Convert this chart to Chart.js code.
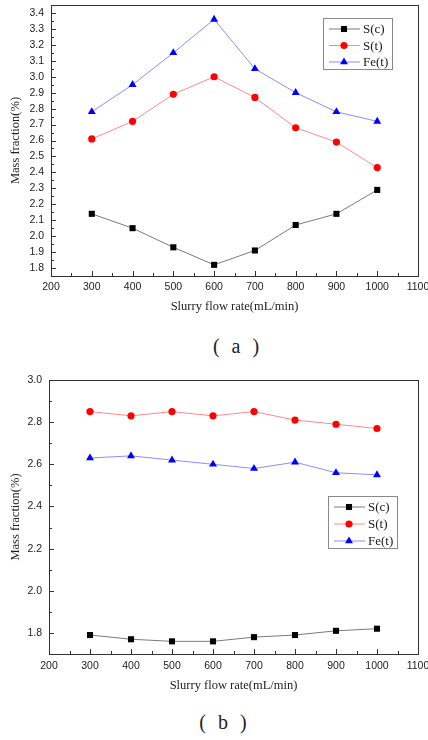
<!DOCTYPE html>
<html>
<head>
<meta charset="utf-8">
<script src="https://cdn.jsdelivr.net/npm/chart.js@4.4.1/dist/chart.umd.min.js"></script>
<style>
body{margin:0;background:#fff;width:428px;height:740px;position:relative;overflow:hidden}
.box{position:absolute;left:0;width:428px}
.cap{position:absolute;width:80px;text-align:center;font-family:"Liberation Serif",serif;font-size:20px;word-spacing:7px;color:#222;white-space:pre}
</style>
</head>
<body>
<div class="box" style="top:0;height:320px"><canvas id="chartA"></canvas></div>
<div class="cap" style="top:335px;left:196px">( a )</div>
<div class="box" style="top:370px;height:330px"><canvas id="chartB"></canvas></div>
<div class="cap" style="top:711px;left:183px">( b )</div>
<script>
// flow rate on x, same for both panels
const flowRate = [300, 400, 500, 600, 700, 800, 900, 1000]
const xTicks = [200, 300, 400, 500, 600, 700, 800, 900, 1000, 1100]
const xMinor = [250, 350, 450, 550, 650, 750, 850, 950, 1050]
const seriesNames = ['S(c)', 'S(t)', 'Fe(t)']

// panel (a)
const scA = [2.14, 2.05, 1.93, 1.82, 1.91, 2.07, 2.14, 2.29]
const stA = [2.61, 2.72, 2.89, 3.00, 2.87, 2.68, 2.59, 2.43]
const feA = [2.78, 2.95, 3.15, 3.36, 3.05, 2.90, 2.78, 2.72]
const yTicksA = [1.8, 1.9, 2.0, 2.1, 2.2, 2.3, 2.4, 2.5, 2.6, 2.7, 2.8, 2.9, 3.0, 3.1, 3.2, 3.3, 3.4]
const yMinorA = [1.85, 1.95, 2.05, 2.15, 2.25, 2.35, 2.45, 2.55, 2.65, 2.75, 2.85, 2.95, 3.05, 3.15, 3.25, 3.35]

// panel (b)
const scB = [1.79, 1.77, 1.76, 1.76, 1.78, 1.79, 1.81, 1.82]
const stB = [2.85, 2.83, 2.85, 2.83, 2.85, 2.81, 2.79, 2.77]
const feB = [2.63, 2.64, 2.62, 2.60, 2.58, 2.61, 2.56, 2.55]
const yTicksB = [1.8, 2.0, 2.2, 2.4, 2.6, 2.8, 3.0]
const yMinorB = [1.9, 2.1, 2.3, 2.5, 2.7, 2.9]

const looks = [
    {line: '#7a7a7a', mark: '#000', style: 'rect', r: 4.3},
    {line: '#ff8a8a', mark: '#f00', style: 'circle', r: 3.6},
    {line: '#8c8cff', mark: '#00f', style: 'triangle', r: 4.6},
]

function makeChart(id, values, yMin, yMax, yTicks, yMinor, cfg) {
    const frame = {
        id: 'frame' + id,
        afterDraw(chart) {
            const {ctx, chartArea: a, scales: {x, y}} = chart
            ctx.save()
            ctx.strokeStyle = '#333'
            ctx.lineWidth = 1
            ctx.strokeRect(Math.round(a.left) + 0.5, Math.round(a.top) + 0.5, Math.round(a.right - a.left), Math.round(a.bottom - a.top))
            ctx.beginPath()
            const xt = (v, len) => {
                const px = Math.round(x.getPixelForValue(v)) + 0.5
                ctx.moveTo(px, a.bottom); ctx.lineTo(px, a.bottom - len)
            }
            const yt = (v, len) => {
                const py = Math.round(y.getPixelForValue(v)) + 0.5
                ctx.moveTo(a.left, py); ctx.lineTo(a.left + len, py)
            }
            xTicks.forEach(v => xt(v, 5))
            xMinor.forEach(v => xt(v, 3))
            yTicks.forEach(v => yt(v, 5))
            yMinor.forEach(v => yt(v, 3))
            ctx.stroke()

            // legend box, drawn by hand so the sample is line + marker
            const L = cfg.legend
            ctx.fillStyle = '#fff'
            ctx.fillRect(L.x, L.y, L.w, L.h)
            ctx.strokeStyle = '#8a8a8a'
            ctx.strokeRect(L.x + 0.5, L.y + 0.5, L.w, L.h)
            ctx.font = '13px "Liberation Serif"'
            ctx.textBaseline = 'middle'
            chart.data.datasets.forEach((ds, i) => {
                const ry = L.y + L.first + i * L.row
                ctx.strokeStyle = ds.borderColor
                ctx.beginPath()
                ctx.moveTo(L.x + 6, ry); ctx.lineTo(L.x + 37, ry)
                ctx.stroke()
                ctx.fillStyle = ds.pointBackgroundColor
                ctx.strokeStyle = ds.pointBackgroundColor
                Chart.helpers.drawPoint(ctx, {pointStyle: ds.pointStyle, radius: ds.pointRadius, rotation: 0, borderWidth: 0}, L.x + 21, ry)
                ctx.fillStyle = '#1a1a1a'
                ctx.fillText(ds.label, L.x + 40, ry + 1)
            })
            ctx.restore()
        }
    }

    return new Chart(document.getElementById(id).getContext('2d'), {
        type: 'line',
        data: {
            datasets: values.map((arr, i) => ({
                label: seriesNames[i],
                data: arr.map((v, j) => ({x: flowRate[j], y: v})),
                borderColor: looks[i].line,
                borderWidth: 1,
                pointStyle: looks[i].style,
                pointRadius: looks[i].r,
                pointBackgroundColor: looks[i].mark,
                pointBorderColor: looks[i].mark,
                pointBorderWidth: 0,
                tension: 0,
            }))
        },
        options: {
            responsive: true,
            maintainAspectRatio: false,
            animation: false,
            layout: {padding: {top: cfg.top, right: 10, left: 0, bottom: 0}},
            plugins: {legend: {display: false}, tooltip: {enabled: false}},
            scales: {
                x: {
                    type: 'linear', min: 200, max: 1100,
                    grid: {display: false, drawTicks: false},
                    border: {display: false},
                    afterBuildTicks: s => { s.ticks = xTicks.map(v => ({value: v})) },
                    afterFit: s => { s.height = cfg.xH; s.paddingLeft = 0; s.paddingRight = 0 },
                    ticks: {padding: cfg.xPad, color: '#222', font: {family: 'Liberation Sans', size: 10.5}, maxRotation: 0, callback: v => String(v)},
                    title: {display: true, text: 'Slurry flow rate(mL/min)', color: '#222',
                        font: {family: 'Liberation Serif', size: 12.5}, padding: {top: 0, bottom: cfg.xTitle}}
                },
                y: {
                    type: 'linear', min: yMin, max: yMax,
                    grid: {display: false, drawTicks: false},
                    border: {display: false},
                    afterBuildTicks: s => { s.ticks = yTicks.map(v => ({value: v})) },
                    afterFit: s => { s.width = cfg.yW; s.paddingTop = 0; s.paddingBottom = 0 },
                    ticks: {padding: 7, color: '#222', font: {family: 'Liberation Sans', size: 10.5}, callback: v => v.toFixed(1)},
                    title: {display: true, text: 'Mass fraction(%)', color: '#222',
                        font: {family: 'Liberation Serif', size: 12.5}, padding: {top: 8.5, bottom: 0}}
                }
            }
        },
        plugins: [frame]
    })
}

makeChart('chartA', [scA, stA, feA], 1.75, 3.45, yTicksA, yMinorA,
    {top: 5, yW: 51, xH: 44, xPad: 5, xTitle: 5.5, legend: {x: 323, y: 18, w: 69, h: 51, first: 11, row: 16.5}})
makeChart('chartB', [scB, stB, feB], 1.7, 3.0, yTicksB, yMinorB,
    {top: 10, yW: 49, xH: 46, xPad: 6, xTitle: 6.5, legend: {x: 328, y: 126, w: 69, h: 52, first: 11, row: 17}})
</script>
</body>
</html>
